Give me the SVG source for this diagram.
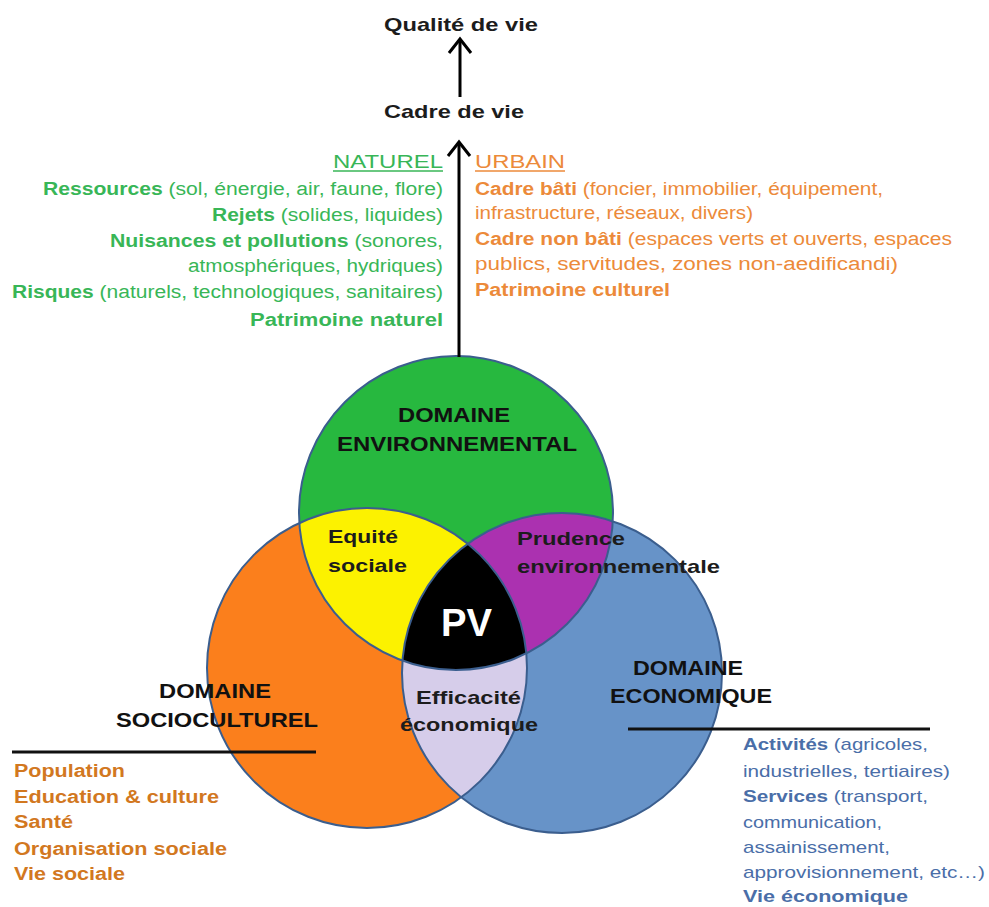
<svg xmlns="http://www.w3.org/2000/svg" width="989" height="907" viewBox="0 0 989 907">
<style>
text{font-family:"Liberation Sans",Arial,sans-serif}
.b{font-weight:bold}
.dark{fill:#1a1a1a}
.lab{font-size:21px;font-weight:bold;fill:#111}
.lab2{font-size:19px;font-weight:bold;fill:#1c1c1c}
.gr{font-size:18px;fill:#38b657}
.ur{font-size:18px;fill:#ec8a3a}
.so{font-size:18px;font-weight:bold;fill:#d2781f}
.ec{font-size:17px;fill:#4a6ea8}
.ring{fill:none;stroke:#3b5e8e;stroke-width:2}
.rule{stroke:#111;stroke-width:3}
.conn{stroke:#000;stroke-width:3;fill:none}
</style>
<defs>
<marker id="chev" viewBox="-3 -14 22 28" markerWidth="22" markerHeight="28" refX="14" refY="0" orient="auto" markerUnits="userSpaceOnUse">
<path d="M0,-11 L14,0 L0,11" fill="none" stroke="#000" stroke-width="3"/>
</marker>
<clipPath id="cO"><circle cx="367" cy="668" r="160"/></clipPath>
<clipPath id="cB"><circle cx="562" cy="673" r="160"/></clipPath>
</defs>
<rect width="989" height="907" fill="#fff"/>

<g id="venn">
<circle cx="367" cy="668" r="160" fill="#fb7f1c"/>
<circle cx="562" cy="673" r="160" fill="#6793c8"/>
<circle cx="456" cy="513" r="157" fill="#27b83f"/>
<circle cx="456" cy="513" r="157" fill="#fcf200" clip-path="url(#cO)"/>
<circle cx="456" cy="513" r="157" fill="#ab31b0" clip-path="url(#cB)"/>
<circle cx="367" cy="668" r="160" fill="#d6cdea" clip-path="url(#cB)"/>
<g clip-path="url(#cO)"><circle cx="456" cy="513" r="157" fill="#000" clip-path="url(#cB)"/></g>
<circle class="ring" cx="367" cy="668" r="160"/>
<circle class="ring" cx="562" cy="673" r="160"/>
<circle class="ring" cx="456" cy="513" r="157"/>
</g>

<g id="connectors">
<line class="conn" x1="460" y1="97" x2="460" y2="39" marker-end="url(#chev)"/>
<line class="conn" x1="459" y1="357" x2="459" y2="142" marker-end="url(#chev)"/>
</g>

<g id="qualite"><text class="lab2" x="384" y="31" textLength="154" lengthAdjust="spacingAndGlyphs">Qualité de vie</text></g>
<g id="cadre"><text class="lab2" x="384" y="118" textLength="140" lengthAdjust="spacingAndGlyphs">Cadre de vie</text></g>

<g id="naturel" text-anchor="end">
<text class="gr" x="443" y="168" textLength="110" lengthAdjust="spacingAndGlyphs">NATUREL</text>
<line x1="333" y1="171" x2="443" y2="171" stroke="#38b657" stroke-width="1.5"/>
<text class="gr" x="443" y="195" textLength="400" lengthAdjust="spacingAndGlyphs"><tspan class="b">Ressources</tspan> (sol, énergie, air, faune, flore)</text>
<text class="gr" x="443" y="221" textLength="231" lengthAdjust="spacingAndGlyphs"><tspan class="b">Rejets</tspan> (solides, liquides)</text>
<text class="gr" x="443" y="247" textLength="333" lengthAdjust="spacingAndGlyphs"><tspan class="b">Nuisances et pollutions</tspan> (sonores,</text>
<text class="gr" x="443" y="272" textLength="255" lengthAdjust="spacingAndGlyphs">atmosphériques, hydriques)</text>
<text class="gr" x="443" y="298" textLength="431" lengthAdjust="spacingAndGlyphs"><tspan class="b">Risques</tspan> (naturels, technologiques, sanitaires)</text>
<text class="gr b" x="443" y="326" textLength="193" lengthAdjust="spacingAndGlyphs">Patrimoine naturel</text>
</g>

<g id="urbain">
<text class="ur" x="475" y="168" textLength="90" lengthAdjust="spacingAndGlyphs">URBAIN</text>
<line x1="475" y1="171" x2="565" y2="171" stroke="#ec8a3a" stroke-width="1.5"/>
<text class="ur" x="475" y="195" textLength="408" lengthAdjust="spacingAndGlyphs"><tspan class="b">Cadre bâti</tspan> (foncier, immobilier, équipement,</text>
<text class="ur" x="475" y="219" font-size="16" textLength="278" lengthAdjust="spacingAndGlyphs">infrastructure, réseaux, divers)</text>
<text class="ur" x="475" y="245" textLength="477" lengthAdjust="spacingAndGlyphs"><tspan class="b">Cadre non bâti</tspan> (espaces verts et ouverts, espaces</text>
<text class="ur" x="475" y="270" textLength="423" lengthAdjust="spacingAndGlyphs">publics, servitudes, zones non-aedificandi)</text>
<text class="ur b" x="475" y="296" textLength="195" lengthAdjust="spacingAndGlyphs">Patrimoine culturel</text>
</g>

<g id="env-label">
<text class="lab" x="398" y="422" textLength="112" lengthAdjust="spacingAndGlyphs">DOMAINE</text>
<text class="lab" x="337" y="451" textLength="240" lengthAdjust="spacingAndGlyphs">ENVIRONNEMENTAL</text>
</g>
<g id="equite">
<text class="lab2" x="328" y="543" textLength="70" lengthAdjust="spacingAndGlyphs">Equité</text>
<text class="lab2" x="328" y="572" textLength="79" lengthAdjust="spacingAndGlyphs">sociale</text>
</g>
<g id="prudence">
<text class="lab2" x="517" y="545" textLength="108" lengthAdjust="spacingAndGlyphs">Prudence</text>
<text class="lab2" x="517" y="573" textLength="203" lengthAdjust="spacingAndGlyphs">environnementale</text>
</g>
<g id="pv"><text x="441" y="636" font-size="38" font-weight="bold" fill="#fff" textLength="51" lengthAdjust="spacingAndGlyphs">PV</text></g>
<g id="efficacite">
<text class="lab2" x="416" y="704" textLength="105" lengthAdjust="spacingAndGlyphs">Efficacité</text>
<text class="lab2" x="400" y="731" textLength="138" lengthAdjust="spacingAndGlyphs">économique</text>
</g>

<g id="socio">
<text class="lab" x="159" y="698" textLength="112" lengthAdjust="spacingAndGlyphs">DOMAINE</text>
<text class="lab" x="116" y="727" textLength="202" lengthAdjust="spacingAndGlyphs">SOCIOCULTUREL</text>
<line class="rule" x1="12" y1="752" x2="316" y2="752"/>
<text class="so" x="14" y="777" textLength="111" lengthAdjust="spacingAndGlyphs">Population</text>
<text class="so" x="14" y="803" textLength="205" lengthAdjust="spacingAndGlyphs">Education &amp; culture</text>
<text class="so" x="14" y="828" textLength="59" lengthAdjust="spacingAndGlyphs">Santé</text>
<text class="so" x="14" y="855" textLength="213" lengthAdjust="spacingAndGlyphs">Organisation sociale</text>
<text class="so" x="14" y="880" textLength="111" lengthAdjust="spacingAndGlyphs">Vie sociale</text>
</g>

<g id="economique">
<text class="lab" x="633" y="675" textLength="110" lengthAdjust="spacingAndGlyphs">DOMAINE</text>
<text class="lab" x="610" y="703" textLength="162" lengthAdjust="spacingAndGlyphs">ECONOMIQUE</text>
<line class="rule" x1="628" y1="729" x2="930" y2="729"/>
<text class="ec" x="743" y="750" textLength="185" lengthAdjust="spacingAndGlyphs"><tspan class="b">Activités</tspan> (agricoles,</text>
<text class="ec" x="743" y="777" textLength="207" lengthAdjust="spacingAndGlyphs">industrielles, tertiaires)</text>
<text class="ec" x="743" y="802" textLength="185" lengthAdjust="spacingAndGlyphs"><tspan class="b">Services</tspan> (transport,</text>
<text class="ec" x="743" y="828" textLength="139" lengthAdjust="spacingAndGlyphs">communication,</text>
<text class="ec" x="743" y="853" textLength="147" lengthAdjust="spacingAndGlyphs">assainissement,</text>
<text class="ec" x="743" y="878" textLength="242" lengthAdjust="spacingAndGlyphs">approvisionnement, etc…)</text>
<text class="ec b" x="743" y="902" textLength="165" lengthAdjust="spacingAndGlyphs">Vie économique</text>
</g>
</svg>
